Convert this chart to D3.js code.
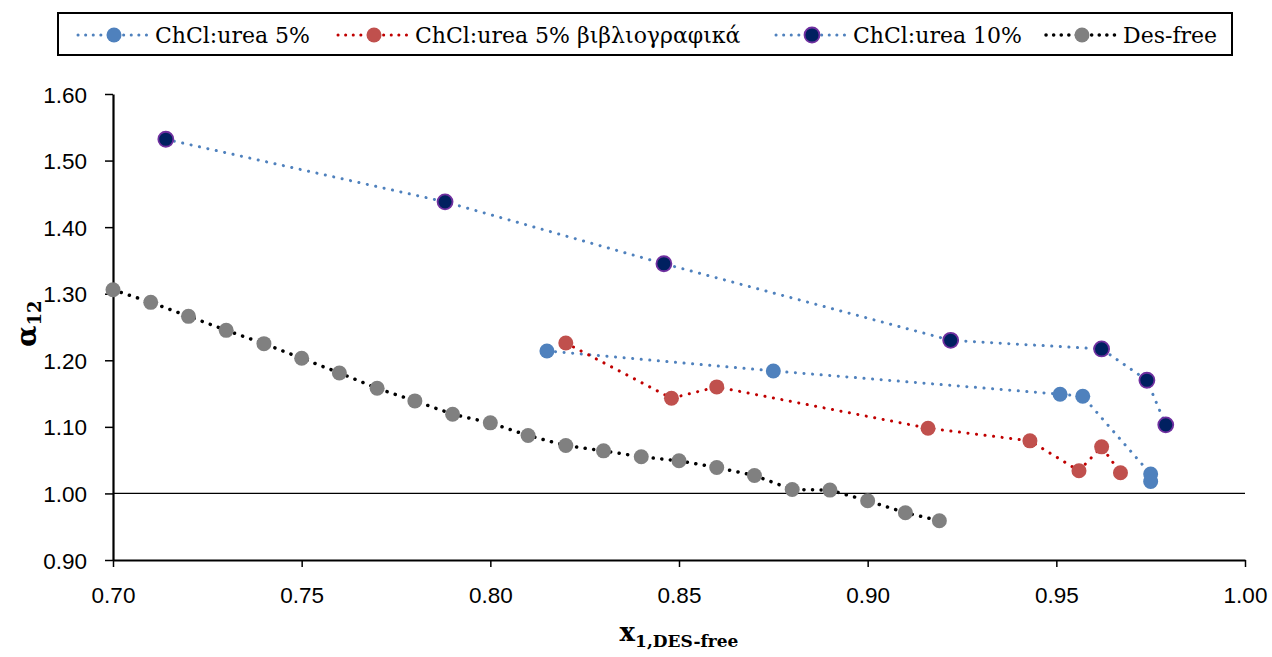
<!DOCTYPE html>
<html>
<head>
<meta charset="utf-8">
<script src="https://cdn.jsdelivr.net/npm/d3@7"></script>
<style>
  body { margin: 0; background: #fff; }
  svg { display: block; }
</style>
</head>
<body>
<svg id="chart" width="1272" height="657"></svg>
<script>
// data
var urea5X = [0.815, 0.875, 0.951, 0.957, 0.975, 0.975];
var urea5Y = [1.214, 1.184, 1.149, 1.146, 1.029, 1.018];

var urea5LitX = [0.820, 0.848, 0.860, 0.916, 0.943, 0.956, 0.962, 0.967];
var urea5LitY = [1.226, 1.143, 1.160, 1.098, 1.079, 1.034, 1.070, 1.031];

var urea10X = [0.714, 0.788, 0.846, 0.922, 0.962, 0.974, 0.979];
var urea10Y = [1.532, 1.438, 1.345, 1.230, 1.217, 1.170, 1.103];

var desFreeX = [0.70, 0.71, 0.72, 0.73, 0.74, 0.75, 0.76, 0.77, 0.78, 0.79, 0.80, 0.81,
                0.82, 0.83, 0.84, 0.85, 0.86, 0.87, 0.88, 0.89, 0.90, 0.91, 0.919];
var desFreeY = [1.306, 1.287, 1.266, 1.245, 1.225, 1.203, 1.181, 1.158, 1.139, 1.119, 1.106, 1.087,
                1.072, 1.064, 1.055, 1.049, 1.039, 1.027, 1.006, 1.005, 0.989, 0.971, 0.959];

var xTicks = [0.70, 0.75, 0.80, 0.85, 0.90, 0.95, 1.00];
var yTicks = [0.90, 1.00, 1.10, 1.20, 1.30, 1.40, 1.50, 1.60];

var seriesNames = ["ChCl:urea 5%", "ChCl:urea 5% βιβλιογραφικά", "ChCl:urea 10%", "Des-free"];

function zipPts(xs, ys) {
  return xs.map(function(x, i) { return { x: x, y: ys[i] }; });
}

var series = [
  { name: seriesNames[0], pts: zipPts(urea5X, urea5Y), line: "#4F81BD", fill: "#4F81BD", stroke: "none", lw: 3 },
  { name: seriesNames[1], pts: zipPts(urea5LitX, urea5LitY), line: "#C00000", fill: "#C0504D", stroke: "none", lw: 3 },
  { name: seriesNames[2], pts: zipPts(urea10X, urea10Y), line: "#4F81BD", fill: "#002060", stroke: "#7030A0", lw: 3 },
  { name: seriesNames[3], pts: zipPts(desFreeX, desFreeY), line: "#000000", fill: "#808080", stroke: "none", lw: 3.5 }
];

var svg = d3.select("#chart");
var margin = { left: 113, right: 27, top: 94, bottom: 97 };
var W = 1272, H = 657;
var serif = "'DejaVu Serif', 'Liberation Serif', serif";

var x = d3.scaleLinear().domain([0.70, 1.00]).range([margin.left, W - margin.right]);
var y = d3.scaleLinear().domain([0.90, 1.60]).range([H - margin.bottom, margin.top]);

// reference line at 1.00
svg.append("line")
  .attr("x1", x(0.70)).attr("x2", x(1.00))
  .attr("y1", y(1.00)).attr("y2", y(1.00))
  .attr("stroke", "#000").attr("stroke-width", 1.3);

var xAxis = svg.append("g")
  .attr("transform", "translate(0," + y(0.90) + ")")
  .call(d3.axisBottom(x).tickValues(xTicks).tickFormat(d3.format(".2f")).tickSize(7).tickSizeOuter(0));
var yAxis = svg.append("g")
  .attr("transform", "translate(" + x(0.70) + ",0)")
  .call(d3.axisLeft(y).tickValues(yTicks).tickFormat(d3.format(".2f")).tickSize(8).tickSizeOuter(0));

[xAxis, yAxis].forEach(function(g) {
  g.select(".domain").attr("stroke", "#000").attr("stroke-width", 2.2);
  g.selectAll(".tick line").attr("stroke", "#000").attr("stroke-width", 1.5);
  g.selectAll(".tick text")
    .attr("fill", "#000")
    .style("font-family", "'Liberation Sans', Arial, sans-serif")
    .style("font-size", "22.5px");
});
xAxis.selectAll(".tick text").attr("y", 0).attr("dy", 0)
  .attr("transform", "translate(0,43)");
yAxis.selectAll(".tick text").attr("x", -26).attr("dy", "0.36em");

// series lines
var lineGen = d3.line().x(function(d) { return x(d.x); }).y(function(d) { return y(d.y); });

series.forEach(function(s) {
  svg.append("path")
    .datum(s.pts)
    .attr("d", lineGen)
    .attr("fill", "none")
    .attr("stroke", s.line)
    .attr("stroke-width", s.lw)
    .attr("stroke-linecap", "round")
    .attr("stroke-dasharray", "0.1,8.5");
});

series.forEach(function(s) {
  svg.selectAll(null)
    .data(s.pts)
    .enter()
    .append("circle")
    .attr("cx", function(d) { return x(d.x); })
    .attr("cy", function(d) { return y(d.y); })
    .attr("r", 7.5)
    .attr("fill", s.fill)
    .attr("stroke", s.stroke)
    .attr("stroke-width", s.stroke === "none" ? 0 : 1.8);
});

// axis titles
var yTitle = svg.append("text")
  .attr("transform", "translate(36," + y(1.255) + ") rotate(-90)")
  .attr("text-anchor", "middle")
  .style("font-family", serif)
  .style("font-weight", "bold")
  .style("font-size", "28px");
yTitle.append("tspan").text("α");
yTitle.append("tspan").attr("dy", 5).style("font-size", "18px").text("12");

var xTitle = svg.append("text")
  .attr("x", x(0.85)).attr("y", 641)
  .attr("text-anchor", "middle")
  .style("font-family", serif)
  .style("font-weight", "bold")
  .style("font-size", "26px");
xTitle.append("tspan").text("x");
xTitle.append("tspan").attr("dy", 6).style("font-size", "17px").text("1,DES-free");

// legend
var legend = svg.append("g");
legend.append("rect")
  .attr("x", 58).attr("y", 13).attr("width", 1174).attr("height", 42)
  .attr("fill", "#fff").attr("stroke", "#000").attr("stroke-width", 2);

var legendMarkerX = [114, 374, 812, 1082];
legend.selectAll("g.item")
  .data(series)
  .enter()
  .append("g")
  .attr("class", "item")
  .each(function(s, i) {
    var g = d3.select(this);
    var cx = legendMarkerX[i];
    g.append("line")
      .attr("x1", cx - 36).attr("x2", cx + 34)
      .attr("y1", 35).attr("y2", 35)
      .attr("stroke", s.line).attr("stroke-width", s.lw)
      .attr("stroke-linecap", "round")
      .attr("stroke-dasharray", "0.1,7.5");
    g.append("circle")
      .attr("cx", cx).attr("cy", 35).attr("r", 7.5)
      .attr("fill", s.fill)
      .attr("stroke", s.stroke)
      .attr("stroke-width", s.stroke === "none" ? 0 : 1.8);
    g.append("text")
      .attr("x", cx + 41).attr("y", 43)
      .style("font-family", serif)
      .style("font-size", "22px")
      .attr("fill", "#000")
      .text(s.name);
  });
</script>
</body>
</html>
